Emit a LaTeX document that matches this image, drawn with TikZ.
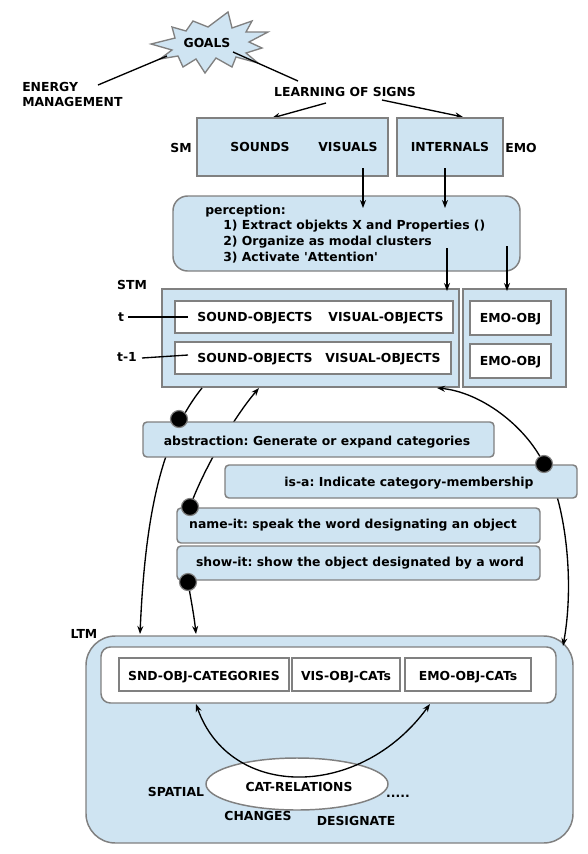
\documentclass[tikz,border=0pt]{standalone}
\usepackage{fontspec}
\setmainfont{DejaVu Sans}[Ligatures=TeXOff]
\usetikzlibrary{shapes.geometric,arrows.meta,fit}
\definecolor{boxfill}{HTML}{CFE4F2}
\definecolor{boxline}{HTML}{808080}
\frenchspacing
\begin{document}
\begin{tikzpicture}[x=0.75pt,y=-0.75pt,
  >={Stealth[length=6pt,width=4.5pt]},
  every node/.style={font=\fontsize{9.3}{11}\selectfont\bfseries, inner sep=0pt},
  bluebox/.style={draw=boxline, fill=boxfill, line width=1.1pt, inner sep=0pt},
  whitebox/.style={draw=boxline, fill=white, line width=1.1pt, inner sep=0pt},
  conn/.style={line width=1pt, draw=black},
  arr/.style={conn, ->},
  ball/.style={circle, fill=black, draw=boxline, line width=0.9pt, minimum size=12.75pt, inner sep=0pt},
  txt/.style={anchor=base},
  txtl/.style={anchor=base west},
]
\useasboundingbox (0,0) rectangle (587,854);

% ---------- top ----------
\draw[draw=boxline, fill=boxfill, line width=1pt, line join=miter]
  (151,44) -- (175,38) -- (172,27) -- (186,31) -- (193,21) -- (208,27) -- (228,12)
  -- (232,28) -- (252,21) -- (246,32) -- (268,32) -- (249,42) -- (262,48) -- (246,53)
  -- (258,63) -- (236,57) -- (232,67) -- (216,58) -- (205,73) -- (196,59) -- (183,67)
  -- (178,56) -- (160,59) -- (172,50) -- cycle;
\node (goals) at (207,42.5) {GOALS};
\node[txtl] (energy1) at (22,91.5) {ENERGY};
\node[txtl] (energy2) at (22,106.5) {MANAGEMENT};
\node[txt] (learning) at (345,96) {LEARNING OF SIGNS};

\coordinate (e1) at (98,85);   \coordinate (g1) at (167,56);
\coordinate (g2) at (233,52);  \coordinate (l1) at (298,81);
\coordinate (l2) at (326,103); \coordinate (s1) at (272,118);
\coordinate (l3) at (382,100); \coordinate (m1) at (463,117);
\draw[conn] (e1) -- (g1);
\draw[conn] (g2) -- (l1);
\draw[arr] (l2) -- (s1);
\draw[arr] (l3) -- (m1);

% ---------- sensory ----------
\node[bluebox, fit={(197,118) (388,176)}] (sm) {};
\node[bluebox, fit={(397,118) (503,176)}] (emo) {};
\node[txt] (sounds) at (260,151) {SOUNDS};
\node[txt] (visuals) at (348,151) {VISUALS};
\node[txt] (internals) at (450,151) {INTERNALS};
\node[txt] (smlbl) at (181,152) {SM};
\node[txt] (emolbl) at (521,152.5) {EMO};

% ---------- perception ----------
\node[bluebox, rounded corners=11pt, fit={(173,196) (520,271)}] (perc) {};
\node[txtl] (p0) at (205,214) {perception:};
\node[txtl] (p1) at (223,229.5) {1) Extract objekts X and Properties ()};
\node[txtl] (p2) at (223,245) {2) Organize as modal clusters};
\node[txtl] (p3) at (223,261) {3) Activate 'Attention'};

\coordinate (v1) at (363,168); \coordinate (v2) at (363,208);
\coordinate (i1) at (445,168); \coordinate (i2) at (445,208);
\draw[arr] (v1) -- (v2);
\draw[arr] (i1) -- (i2);

% ---------- STM ----------
\node[txt] (stmlbl) at (132,289.5) {STM};
\node[bluebox, fit={(162,289) (459,387)}] (stm) {};
\node[bluebox, fit={(463,289) (566,387)}] (stmemo) {};
\node[whitebox, fit={(175,301) (453,333)}] (rowt) {};
\node[whitebox, fit={(175,342) (451,374)}] (rowt1) {};
\node[whitebox, fit={(470,301) (551,335)}] (emoobj1) {};
\node[whitebox, fit={(470,344) (551,378)}] (emoobj2) {};
\node[txt] at (255,321.5) {SOUND-OBJECTS};
\node[txt] at (386,321.5) {VISUAL-OBJECTS};
\node[txt] at (255,362.5) {SOUND-OBJECTS};
\node[txt] at (383,362.5) {VISUAL-OBJECTS};
\node[txt] at (510.5,322.5) {EMO-OBJ};
\node[txt] at (510.5,365.5) {EMO-OBJ};
\node[txt] (tlbl) at (121,321.5) {t};
\node[txt] (t1lbl) at (127,361) {t-1};
\coordinate (ta) at (128,317); \coordinate (tb) at (188,317);
\coordinate (tc) at (142,358); \coordinate (td) at (188,355);
\draw[conn] (ta) -- (tb);
\draw[conn] (tc) -- (td);

\coordinate (q1) at (447,248); \coordinate (q2) at (447,291);
\coordinate (r1) at (507,246); \coordinate (r2) at (507,291);
\draw[arr] (q1) -- (q2);
\draw[arr] (r1) -- (r2);

% ---------- LTM ----------
\node[txt] (ltmlbl) at (84,638) {LTM};
\node[bluebox, rounded corners=22pt, fit={(86,636) (573,843)}] (ltm) {};
\node[whitebox, rounded corners=7pt, fit={(101,647) (556,703)}] (ltmin) {};
\node[whitebox, fit={(119,658) (289,691)}] (sndcat) {};
\node[whitebox, fit={(292,658) (400,691)}] (viscat) {};
\node[whitebox, fit={(405,658) (531,691)}] (emocat) {};
\node[txt] at (204,680) {SND-OBJ-CATEGORIES};
\node[txt] at (346,680) {VIS-OBJ-CATs};
\node[txt] at (468,680) {EMO-OBJ-CATs};
\node[ellipse, draw=boxline, fill=white, line width=1.1pt, minimum width=136.5pt, minimum height=39pt] (catrel) at (297,784) {};
\node[txt] at (299,791) {CAT-RELATIONS};
\node[txt] (spatial) at (176,796) {SPATIAL};
\node[txt] (changes) at (258,820) {CHANGES};
\node[txt] (designate) at (356,825) {DESIGNATE};
\node[txt] (dots) at (398,797) {.....};
\coordinate (c1) at (196,704); \coordinate (c2) at (430,704);
\draw[conn, <->] (c1) .. controls (230,800) and (360,800) .. (c2);

% ---------- connectors between STM and LTM ----------
\coordinate (b1) at (179,419);
\coordinate (b2) at (544,464);
\coordinate (b3) at (190,507);
\coordinate (b4) at (188,582);
\coordinate (s_a) at (202,388); \coordinate (ltm_a) at (140,634);
\coordinate (s_b) at (259,388);
\coordinate (ltm_b) at (196,634);
\coordinate (s_c) at (437,388); \coordinate (ltm_c) at (563,646);
\draw[arr] (s_a) .. controls (160,440) and (145,520) .. (ltm_a);
\draw[arr] (b3) .. controls (202,472) and (234,417) .. (s_b);
\draw[arr] (b4) .. controls (191,600) and (194,615) .. (ltm_b);
\draw[arr] (b2) .. controls (525,425) and (480,392) .. (s_c);
\draw[arr] (b2) .. controls (565,500) and (575,580) .. (ltm_c);

% ---------- operation boxes ----------
\node[bluebox, rounded corners=3pt, fit={(143,422) (494,457)}] (abstr) {};
\node[txt] at (317,445.5) {abstraction: Generate or expand categories};
\node[bluebox, rounded corners=3pt, fit={(225,465) (577,498)}] (isa) {};
\node[txt] at (409,486.5) {is-a: Indicate category-membership};
\node[bluebox, rounded corners=3pt, fit={(177,508) (540,543)}] (nameit) {};
\node[txt] at (353,528.5) {name-it: speak the word designating an object};
\node[bluebox, rounded corners=3pt, fit={(177,546) (540,580)}] (showit) {};
\node[txt] at (360,566.5) {show-it: show the object designated by a word};

\node[ball] (d1) at (b1) {};
\node[ball] (d2) at (b2) {};
\node[ball] (d3) at (b3) {};
\node[ball] (d4) at (b4) {};
\end{tikzpicture}
\end{document}
